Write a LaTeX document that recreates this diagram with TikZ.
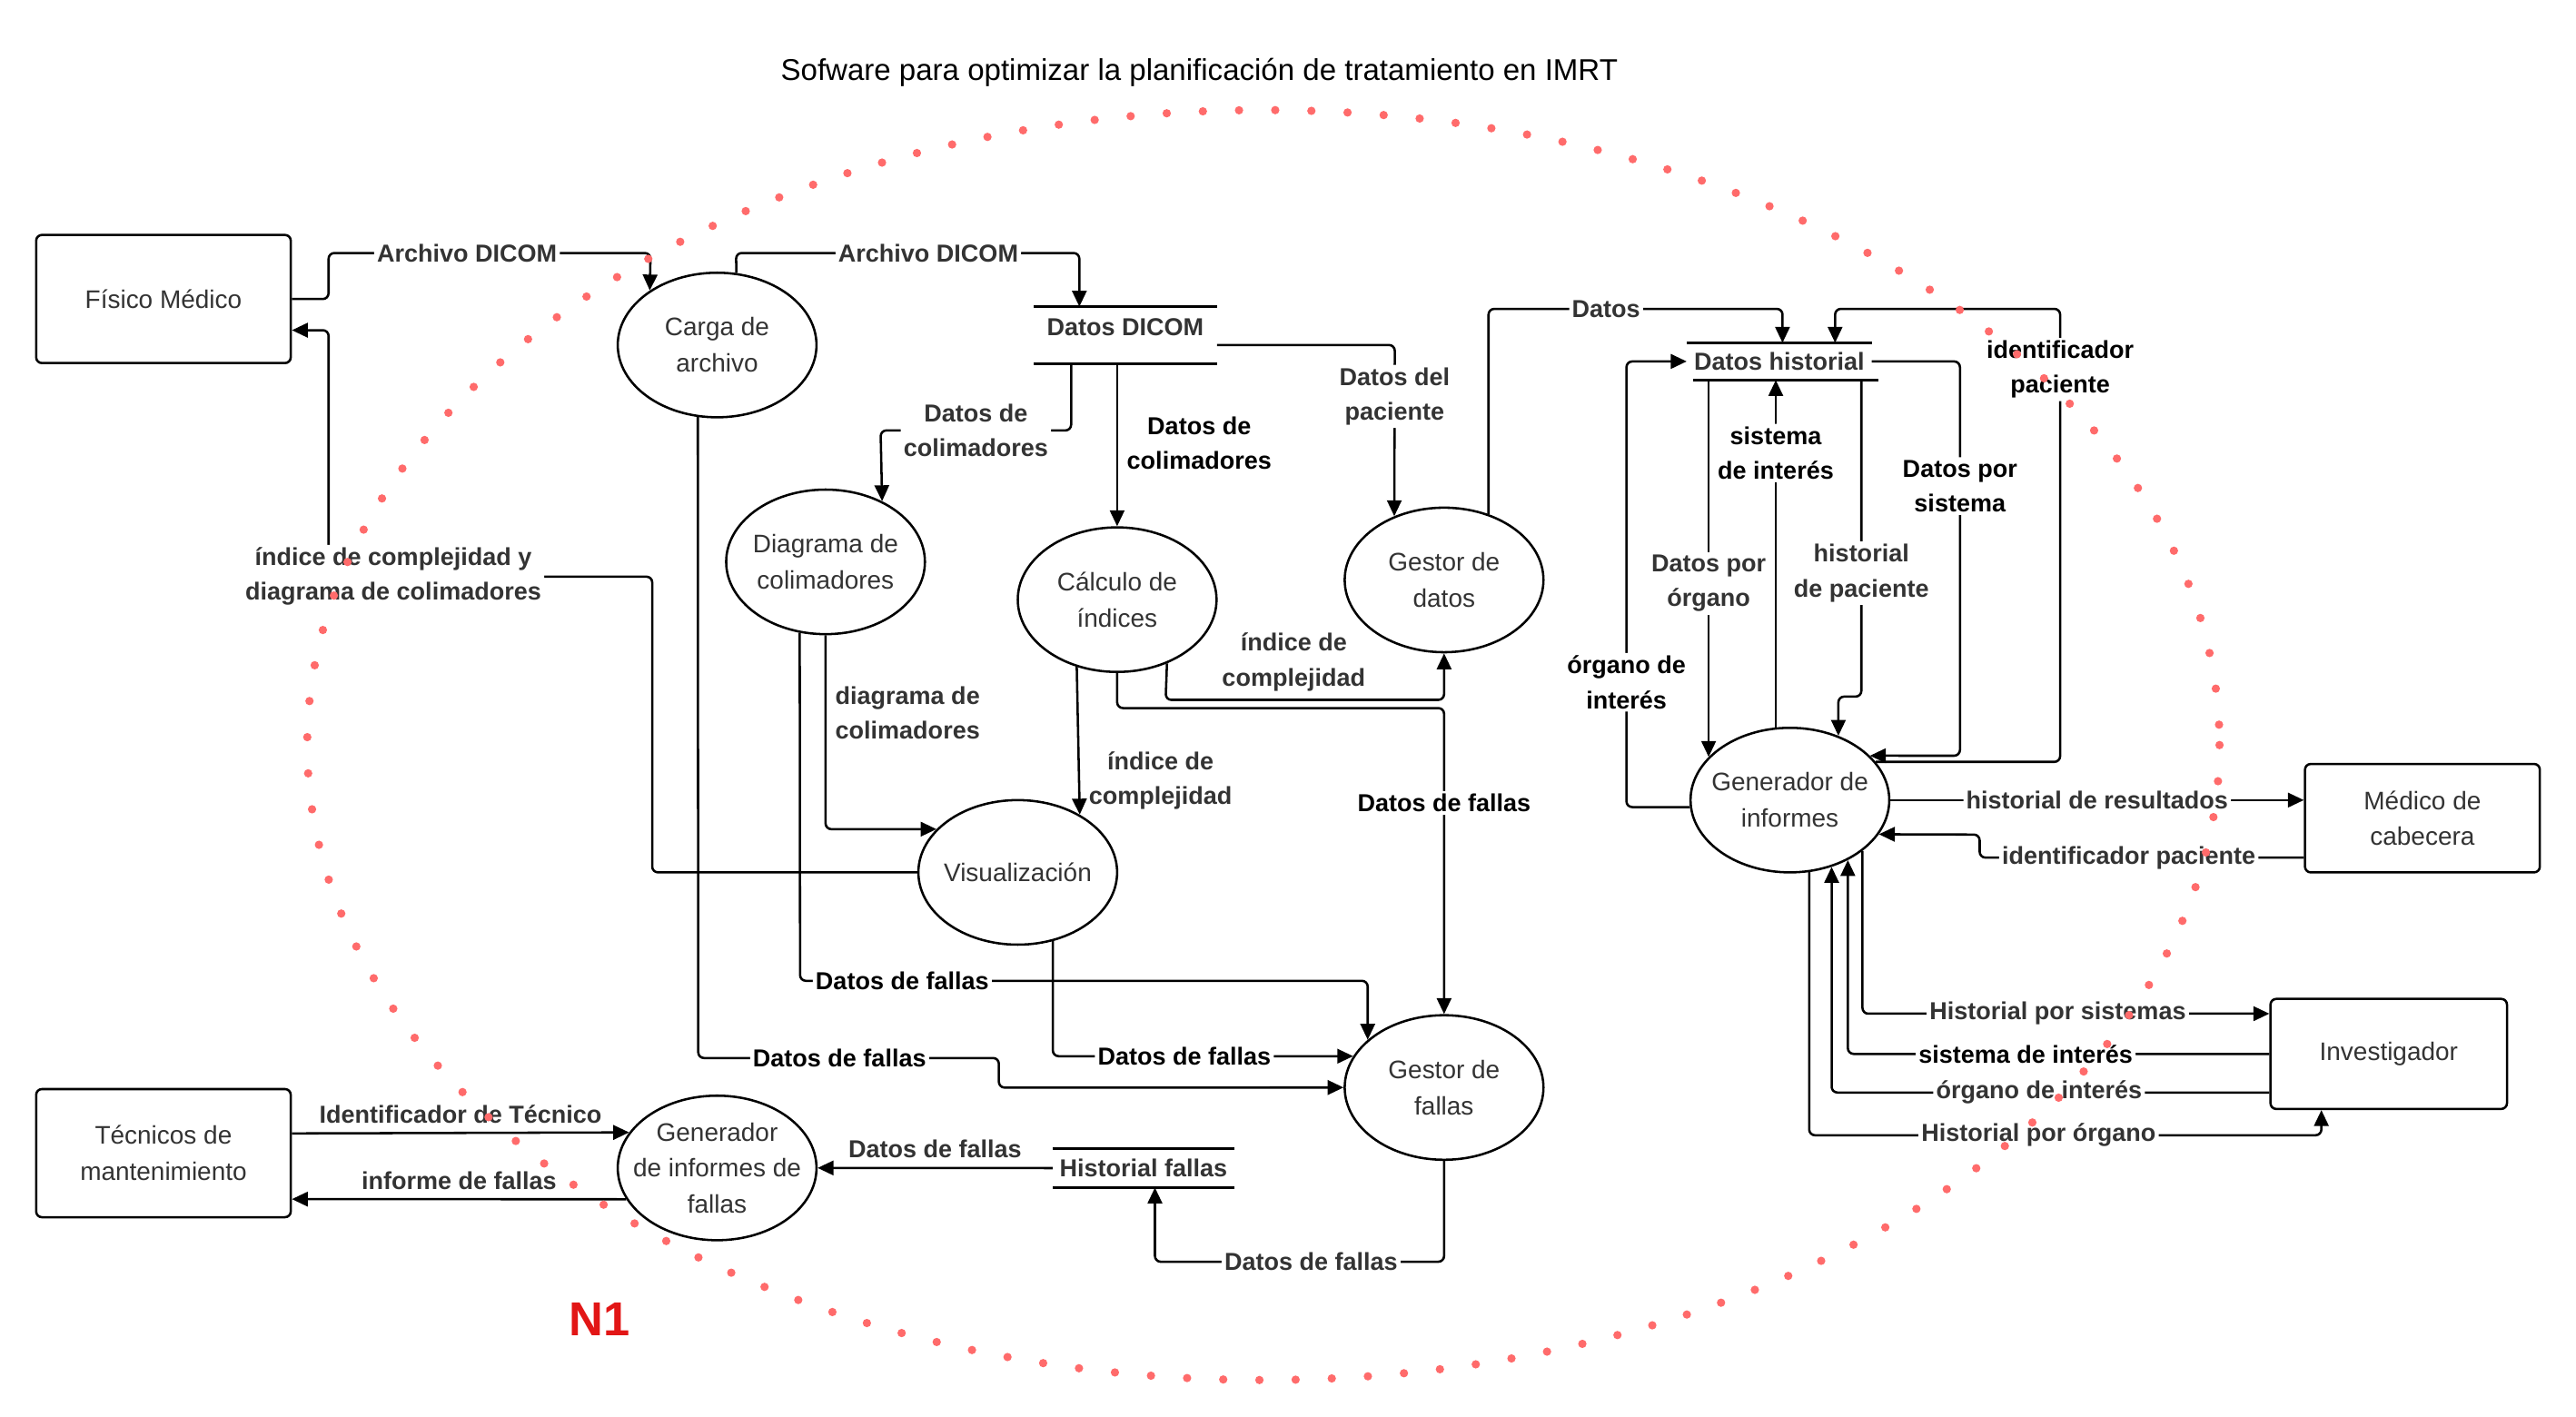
\documentclass[tikz,border=0pt]{standalone}
\usepackage{fontspec}
\setmainfont{Liberation Sans}
\usetikzlibrary{arrows.meta, positioning, shapes.geometric}

\definecolor{txtgray}{RGB}{51,51,51}
\definecolor{dotred}{RGB}{255,107,107}
\definecolor{nred}{RGB}{226,22,22}

\tikzset{
  ent/.style={draw, rounded corners=2pt, line width=0.8pt, text=txtgray, align=center, font=\fontsize{8.8}{12.5}\selectfont},
  proc/.style={draw, ellipse, line width=0.8pt, minimum width=2.42cm, minimum height=1.76cm, inner sep=0pt},
  ptxt/.style={text=txtgray, align=center, font=\fontsize{8.8}{12.5}\selectfont},
  store/.style={text=txtgray, inner sep=0pt, font=\bfseries\fontsize{8.5}{12}\selectfont},
  storeline/.style={line width=0.8pt},
  flow/.style={line width=0.8pt, rounded corners=2pt, -{Triangle[length=5.5pt,width=5pt]}},
  lbl/.style={fill=white, inner sep=1pt, align=center, text=txtgray, font=\bfseries\fontsize{8.5}{12}\selectfont},
  lblk/.style={lbl, text=black},
  nofill/.style={fill=none}
}

\begin{document}
\begin{tikzpicture}[x=0.02cm, y=-0.02cm]
\useasboundingbox (0,0) rectangle (1568,862);

\node[font=\fontsize{10.4}{12}\selectfont] (titulo) at (730,44) {Sofware para optimizar la planificación de tratamiento en IMRT};

% entidades
\node[ent, minimum width=3.1cm, minimum height=1.56cm] (fisico) at (99.5,182) {Físico Médico};
\node[ent, minimum width=3.1cm, minimum height=1.56cm] (tecnicos) [node distance=10.4cm, below of=fisico] {Técnicos de\\mantenimiento};
\node[ent, minimum width=2.86cm, minimum height=1.32cm] (medico) at (1474.5,498) {Médico de\\cabecera};
\node[ent, minimum width=2.88cm, minimum height=1.34cm] (investigador) at (1454,641.5) {Investigador};

% procesos
\node[proc, label={[ptxt]center:Carga de\\archivo}] (carga) at (436.5,210) {};
\node[proc, label={[ptxt]center:Diagrama de\\colimadores}] (diagrama) at (502.5,342) {};
\node[proc, label={[ptxt]center:Cálculo de\\índices}] (calculo) at (680,365) {};
\node[proc, label={[ptxt]center:Gestor de\\datos}] (gdatos) at (879,353) {};
\node[proc, label={[ptxt]center:Visualización}] (visual) at (619.5,531) {};
\node[proc, label={[ptxt]center:Gestor de\\fallas}] (gfallas) [node distance=6.18cm, below of=gdatos] {};
\node[proc, label={[ptxt]center:Generador\\de informes de\\fallas}] (genfallas) [node distance=10.02cm, below of=carga] {};
\node[proc, label={[ptxt]center:Generador de\\informes}] (geninf) at (1089.5,487) {};

% almacenes
\node[store, minimum width=2.22cm, minimum height=0.68cm, text depth=5.6pt] (dicom) at (685,204) {Datos DICOM};
\node[store, minimum width=2.24cm, minimum height=0.44cm] (historial) at (1083,220) {Datos historial};
\node[store, minimum width=2.2cm, minimum height=0.46cm] (hfallas) at (696,711) {Historial fallas};
\draw[storeline] (dicom.north west) -- (dicom.north east) (dicom.south west) -- (dicom.south east);
\draw[storeline] (historial.north west) -- (historial.north east) ([xshift=0.08cm]historial.south west) -- ([xshift=0.08cm]historial.south east);
\draw[storeline] (hfallas.north west) -- (hfallas.north east) (hfallas.south west) -- (hfallas.south east);

% flujos izquierda
\draw[flow] (fisico.east) -| (200,154) -- node[lbl, pos=0.43] {Archivo DICOM} (396,154) -- (carga.141);
\draw[flow] (visual.west) -| (397,351) -- node[lbl, pos=0.8] {índice de complejidad y\\diagrama de colimadores} (200,351) |- ([yshift=-0.38cm]fisico.east);
\draw[flow] (carga.75) -- (448,154) -- node[lbl, pos=0.56] {Archivo DICOM} (657,154) -- (657,154 |- dicom.north);
\draw[flow] (carga.255) -- (425,644) -- node[lblk, pos=0.47] {Datos de fallas} (608,644) -- (608,662) -- (gfallas.west);
\draw[flow] ([yshift=0.24cm]tecnicos.east) -- node[lbl, nofill, above=2pt] {Identificador de Técnico} (genfallas.158.5);
\draw[flow] (genfallas.199.2) -- node[lbl, nofill, above=2pt] {informe de fallas} ([yshift=-0.56cm]tecnicos.east);

% flujos centro
\draw[flow] ([xshift=-0.66cm]dicom.south) -- (652,262) -- node[lbl] {Datos de\\colimadores} (536,262) -- (diagrama.47.5);
\draw[flow] (calculo.north |- dicom.south) -- node[lblk, nofill, right=2pt, pos=0.49] {Datos de\\colimadores} (calculo.north);
\draw[flow] ([yshift=-0.12cm]dicom.east) -- (849,210) -- node[lbl, pos=0.3] {Datos del\\paciente} (gdatos.128);
\draw[flow] (calculo.-52.5) -- (709.5,426) -| node[lbl, nofill, pos=0.23, yshift=0.46cm] {índice de\\complejidad} (gdatos.south);
\draw[flow] (calculo.south) -- (680,431) -| node[lblk, pos=0.655] {Datos de fallas} (gfallas.north);
\draw[flow] (calculo.239.3) -- node[lbl, nofill, right=2pt, pos=0.77] {índice de\\complejidad} (visual.43.9);
\draw[flow] (diagrama.south) |- node[lbl, nofill, right=2pt, pos=0.2] {diagrama de\\colimadores} (visual.152);
\draw[flow] (diagrama.250) -- (487,597) -| node[lblk, pos=0.09] {Datos de fallas} (gfallas.148.1);
\draw[flow] (visual.297.6) |- node[lblk, pos=0.719] {Datos de fallas} (gfallas.161.9);
\draw[flow] (gfallas.south) |- node[lbl, pos=0.73] {Datos de fallas} (703,768) -- (703,768 |- hfallas.south);
\draw[flow] (hfallas.west) -- node[lbl, nofill, above=2pt] {Datos de fallas} (genfallas.east);

% flujos derecha
\draw[flow] (gdatos.56.8) |- node[lbl, pos=0.7] {Datos} (1085,188) -- (1085,188 |- historial.north);
\draw[flow] (geninf.24) -| node[lblk, pos=0.933] {identificador\\paciente} (1254,188) -- (1117,188) -- (1117,188 |- historial.north);
\draw[flow] (historial.east) -| node[lblk, pos=0.658] {Datos por\\sistema} (1193,460) -- (geninf.29.5);
\draw[flow] (geninf.152.9 |- historial.south) -- node[lbl, pos=0.54] {Datos por\\órgano} (geninf.152.9);
\draw[flow] (geninf.101) -- node[lblk, pos=0.79] {sistema\\de interés} (geninf.101 |- historial.south);
\draw[flow] (1133,0 |- historial.south) -- node[lbl, pos=0.61] {historial\\de paciente} (1133,424) -| (geninf.53.7);
\draw[flow] (geninf.184.8) -| node[lblk, pos=0.64] {órgano de\\interés} (990,220) -- (historial.west);
\draw[flow] (geninf.east) -- node[lbl] {historial de resultados} (geninf.east -| medico.west);
\draw[flow] ([yshift=-0.48cm]medico.west) -| node[lbl, pos=0.27] {identificador paciente} (1205,508) -- (geninf.-21.5);
\draw[flow] (geninf.-35.1) |- node[lbl, pos=0.74] {Historial por sistemas} ([yshift=0.49cm]investigador.west);
\draw[flow] (investigador.west) -| node[lblk, pos=0.289] {sistema de interés} (geninf.-46.3);
\draw[flow] ([yshift=-0.47cm]investigador.west) -| node[lbl, pos=0.263] {órgano de interés} (geninf.-58.6);
\draw[flow] (geninf.-75.1) |- node[lbl, pos=0.724] {Historial por órgano} (1413,691) -- (1413,691 |- investigador.south);

\node[text=nred, font=\bfseries\fontsize{16.5}{18}\selectfont] (nivel) at (365,803) {N1};

% limite del sistema
\draw[dotred, line width=2.9pt, line cap=round, dash pattern=on 0pt off 12.537pt] (769,453.5) ellipse [x radius=582, y radius=386.5];
\end{tikzpicture}
\end{document}
